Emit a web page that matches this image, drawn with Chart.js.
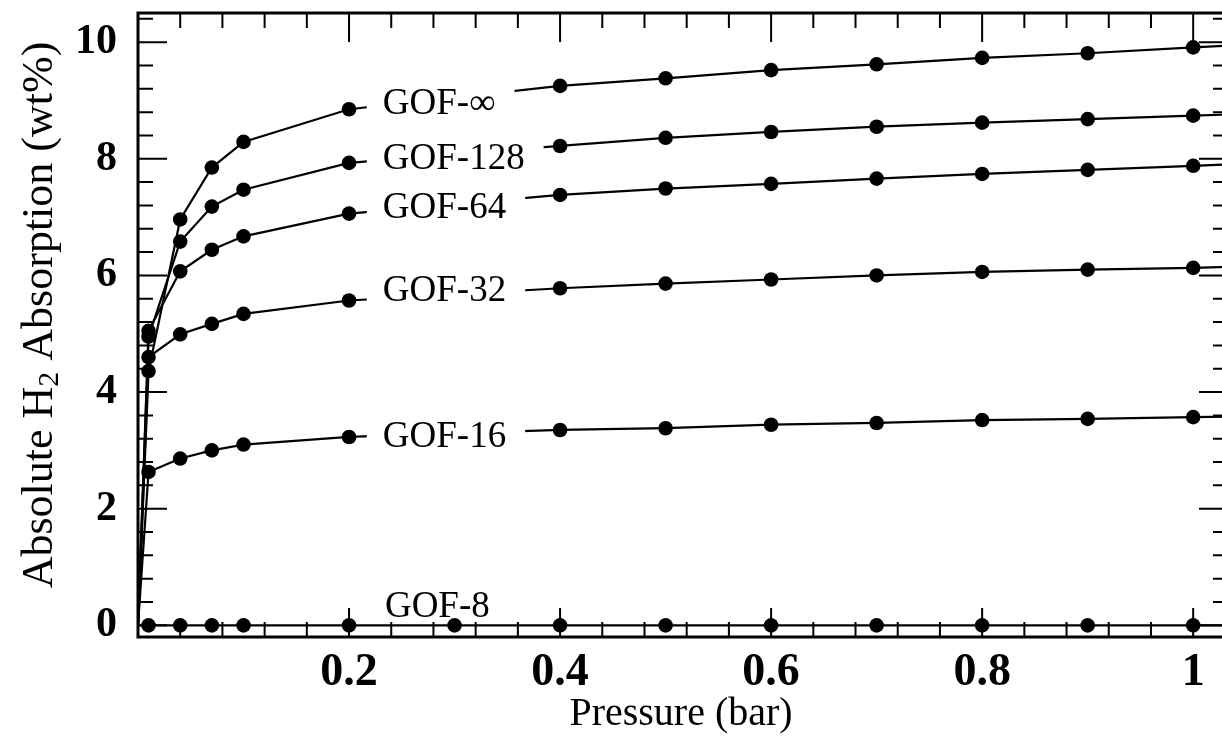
<!DOCTYPE html>
<html>
<head>
<meta charset="utf-8">
<script src="https://cdn.jsdelivr.net/npm/chart.js@4.4.0/dist/chart.umd.min.js"></script>
<style>
html, body { margin: 0; padding: 0; background: #fff; overflow: hidden; }
/* the plot frame runs a few px past the right edge of the window, like the reference */
#wrap { position: absolute; left: 0; top: 0; width: 1230px; height: 737px; }
</style>
</head>
<body>
<div id="wrap"><canvas id="chart"></canvas></div>
<script>
// pressure (bar) of each sample
const pressure = [0, 0.01, 0.04, 0.07, 0.1, 0.2, 0.4, 0.5, 0.6, 0.7, 0.8, 0.9, 1.0, 1.1];
const pressureGof8 = [0, 0.01, 0.04, 0.07, 0.1, 0.2, 0.3, 0.4, 0.5, 0.6, 0.7, 0.8, 0.9, 1.0, 1.1];

// absolute H2 uptake (wt%)
const gofInf = [0, 4.36, 6.96, 7.85, 8.29, 8.85, 9.25, 9.38, 9.52, 9.62, 9.73, 9.81, 9.91, 10.0];
const gof128 = [0, 4.95, 6.58, 7.18, 7.47, 7.93, 8.22, 8.36, 8.46, 8.55, 8.62, 8.68, 8.74, 8.8];
const gof64 = [0, 5.05, 6.07, 6.44, 6.67, 7.06, 7.38, 7.49, 7.57, 7.66, 7.74, 7.81, 7.88, 7.95];
const gof32 = [0, 4.6, 4.99, 5.17, 5.34, 5.57, 5.78, 5.86, 5.93, 6.0, 6.06, 6.10, 6.13, 6.18];
const gof16 = [0, 2.63, 2.86, 3.0, 3.1, 3.23, 3.35, 3.38, 3.44, 3.47, 3.52, 3.54, 3.57, 3.6];
const gof8 = [0, 0, 0, 0, 0, 0, 0, 0, 0, 0, 0, 0, 0, 0, 0];

const seriesNames = ["GOF-\u221E", "GOF-128", "GOF-64", "GOF-32", "GOF-16", "GOF-8"];

const xTicks = [0.2, 0.4, 0.6, 0.8, 1];
const xTickLabels = ["0.2", "0.4", "0.6", "0.8", "1"];
const yTicks = [0, 2, 4, 6, 8, 10];

// where the curve names sit (data units, left edge / middle of text)
const nameSpots = [
    { x: 0.232, y: 8.94, box: true },
    { x: 0.232, y: 8.0, box: true },
    { x: 0.232, y: 7.15, box: true },
    { x: 0.232, y: 5.73, box: true },
    { x: 0.232, y: 3.23, box: true },
    { x: 0.234, y: 0.31, box: false }
];

const serif = '"Liberation Serif", "Times New Roman", serif';

function pts(xs, ys) {
    return xs.map((x, i) => ({ x: x, y: ys[i] }));
}

function makeSet(name, xs, ys) {
    return {
        label: name,
        data: pts(xs, ys),
        borderColor: '#000',
        backgroundColor: '#000',
        borderWidth: 2.2,
        tension: 0,
        pointRadius: c => (c.raw && c.raw.x > 0 && c.raw.x <= 1) ? 7.3 : 0,
        pointBorderWidth: 0,
        pointBackgroundColor: '#000'
    };
}

// curve names on white patches that break the lines
const nameLabels = {
    id: 'nameLabels',
    afterDatasetsDraw(chart) {
        const { ctx, scales: { x, y } } = chart;
        ctx.save();
        ctx.font = '37px ' + serif;
        ctx.textBaseline = 'middle';
        ctx.textAlign = 'left';
        seriesNames.forEach((name, i) => {
            const s = nameSpots[i];
            const px = x.getPixelForValue(s.x);
            const py = y.getPixelForValue(s.y);
            const w = ctx.measureText(name).width;
            if (s.box) {
                ctx.fillStyle = '#fff';
                ctx.fillRect(px - 16, py - 18, w + 35, 36);
            }
            ctx.fillStyle = '#000';
            ctx.fillText(name, px, py);
        });
        ctx.restore();
    }
};

// xmgrace style box with inward ticks + axis titles
const frame = {
    id: 'frame',
    afterDraw(chart) {
        const { ctx, chartArea: a, scales: { x, y } } = chart;
        ctx.save();
        ctx.strokeStyle = '#000';
        ctx.lineWidth = 2;
        ctx.beginPath();
        for (let i = 0; i <= 30; i++) {
            const v = Math.round(i * 4) / 100;
            if (v > x.max) break;
            const px = x.getPixelForValue(v);
            const len = i % 5 === 0 ? 29 : 15;
            ctx.moveTo(px, a.bottom); ctx.lineTo(px, a.bottom - len);
            ctx.moveTo(px, a.top); ctx.lineTo(px, a.top + len);
        }
        for (let i = 0; i <= 30; i++) {
            const v = Math.round(i * 4) / 10;
            if (v > y.max) break;
            const py = y.getPixelForValue(v);
            const len = i % 5 === 0 ? 29 : 15;
            ctx.moveTo(a.left, py); ctx.lineTo(a.left + len, py);
            ctx.moveTo(a.right, py); ctx.lineTo(a.right - len, py);
        }
        ctx.stroke();
        ctx.lineWidth = 3;
        ctx.strokeRect(a.left, a.top, a.right - a.left, a.bottom - a.top);

        // x title
        ctx.fillStyle = '#000';
        ctx.font = '40px ' + serif;
        ctx.textAlign = 'center';
        ctx.textBaseline = 'middle';
        ctx.fillText('Pressure (bar)', 681, 714);

        // y title with subscript 2
        const big = '44px ' + serif, small = '30px ' + serif;
        const parts = [['Absolute H', big, 0], ['2', small, 10], [' Absorption (wt%)', big, 0]];
        let total = 0;
        parts.forEach(p => { ctx.font = p[1]; total += ctx.measureText(p[0]).width; });
        ctx.translate(40, 315);
        ctx.rotate(-Math.PI / 2);
        ctx.textAlign = 'left';
        let cx = -total / 2;
        parts.forEach(p => {
            ctx.font = p[1];
            ctx.fillText(p[0], cx, p[2]);
            cx += ctx.measureText(p[0]).width;
        });
        ctx.restore();
    }
};

const ctx = document.getElementById('chart').getContext('2d');

new Chart(ctx, {
    type: 'line',
    data: {
        datasets: [
            makeSet(seriesNames[0], pressure, gofInf),
            makeSet(seriesNames[1], pressure, gof128),
            makeSet(seriesNames[2], pressure, gof64),
            makeSet(seriesNames[3], pressure, gof32),
            makeSet(seriesNames[4], pressure, gof16),
            makeSet(seriesNames[5], pressureGof8, gof8)
        ]
    },
    options: {
        responsive: true,
        maintainAspectRatio: false,
        animation: false,
        devicePixelRatio: 1,
        layout: { padding: { top: 13, right: 2, left: 0, bottom: 0 } },
        plugins: {
            legend: { display: false },
            tooltip: { enabled: false }
        },
        scales: {
            x: {
                type: 'linear',
                min: 0,
                max: 1.033,
                grid: { display: false },
                border: { display: false },
                afterBuildTicks: s => { s.ticks = xTicks.map(v => ({ value: v })); },
                afterFit: s => { s.height = 100; s.paddingLeft = 0; s.paddingRight = 0; },
                ticks: {
                    autoSkip: false,
                    maxRotation: 0,
                    padding: 1,
                    color: '#000',
                    font: { family: serif, size: 46, weight: 'bold' },
                    callback: (v, i) => xTickLabels[i]
                }
            },
            y: {
                min: -0.2,
                max: 10.5,
                grid: { display: false },
                border: { display: false },
                afterBuildTicks: s => { s.ticks = yTicks.map(v => ({ value: v })); },
                afterFit: s => { s.width = 138; s.paddingTop = 0; s.paddingBottom = 0; },
                ticks: {
                    autoSkip: false,
                    padding: 13,
                    color: '#000',
                    font: { family: serif, size: 42, weight: 'bold' },
                    callback: v => String(v)
                }
            }
        }
    },
    plugins: [nameLabels, frame]
});
</script>
</body>
</html>
